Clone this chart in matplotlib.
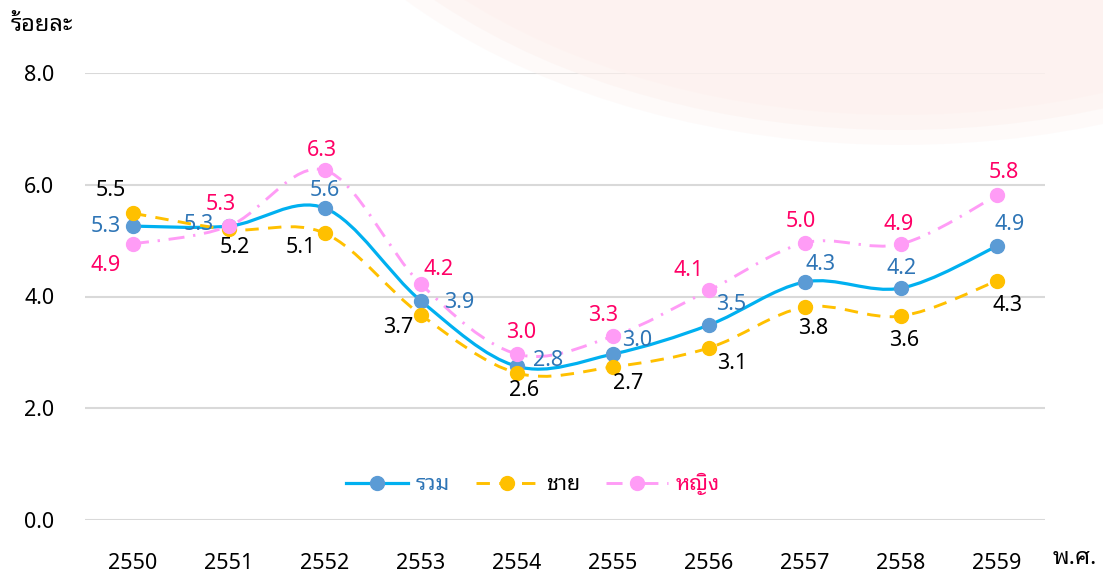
import matplotlib
matplotlib.use("Agg")
import matplotlib.pyplot as plt
import numpy as np
from matplotlib.path import Path
from matplotlib.patches import PathPatch, Ellipse
from matplotlib.lines import Line2D

plt.rcParams['font.family'] = ['Noto Sans', 'Noto Sans Thai Looped', 'DejaVu Sans']

# data (unemployment rate, percent)
years = ["2550", "2551", "2552", "2553", "2554", "2555", "2556", "2557", "2558", "2559"]
total = [5.26, 5.26, 5.58, 3.92, 2.75, 2.97, 3.49, 4.26, 4.15, 4.90]
male = [5.49, 5.20, 5.13, 3.67, 2.63, 2.74, 3.08, 3.81, 3.65, 4.28]
female = [4.94, 5.26, 6.26, 4.22, 2.97, 3.29, 4.11, 4.96, 4.94, 5.81]
labels = ["รวม", "ชาย", "หญิง"]

# label offsets in pixels (dx, dy) per point
off_total = [(-27, 0), (-30, 2), (0, 18), (38, -2), (31, 6), (24, 14), (22, 20), (16, 17), (1, 20), (13, 22)]
off_male = [(-22, 23), (6, -18), (-24, -14), (-23, -13), (7, -17), (15, -17), (23, -16), (8, -21), (3, -24), (11, -25)]
off_female = [(-27, -22), (-8, 22), (-3, 20), (18, 15), (4, 22), (-10, 21), (-20, 20), (-4, 21), (-2, 19), (7, 23)]


def smooth_path(xs, ys):
    # Excel style smoothed line: cubic bezier through every point
    pts = np.column_stack([xs, ys]).astype(float)
    n = len(pts)
    verts = [pts[0]]
    codes = [Path.MOVETO]
    for i in range(n - 1):
        p0 = pts[max(i - 1, 0)]
        p1 = pts[i]
        p2 = pts[i + 1]
        p3 = pts[min(i + 2, n - 1)]
        c1 = p1 + (p2 - p0) / 6.0
        c2 = p2 - (p3 - p1) / 6.0
        verts += [c1, c2, p2]
        codes += [Path.CURVE4] * 3
    return Path(verts, codes)


fig = plt.figure(figsize=(11.03, 5.78), dpi=100)

# faint decorative background at top right
for w, h, a in [(1340, 890, 0.3), (1300, 860, 0.5), (1260, 830, 0.5)]:
    e = Ellipse((900 / 1103, 1 + 300 / 578), width=w / 1103, height=h / 578,
                transform=fig.transFigure, facecolor='#FDF1EE', edgecolor='none', alpha=a, zorder=0)
    fig.patches.append(e)

ax = fig.add_axes([85 / 1103, 1 - 520 / 578, 960 / 1103, 447 / 578])
ax.set_facecolor('none')
x = np.arange(len(years))

series = [
    (total, off_total, '#00B0F0', '#5B9BD5', '#2E75B6', '-'),
    (male, off_male, '#FFC000', '#FFC000', 'black', (0, (4.6, 3.2))),
    (female, off_female, '#FF9CF6', '#FF9CF6', '#FF0066', (0, (5.5, 3, 0.8, 3))),
]

handles = []
for i, (vals, offs, lc, mc, tc, ls) in enumerate(series):
    z = 3 + i
    lw = 2.3 if i == 0 else 2.1
    patch = PathPatch(smooth_path(x, vals), fill=False, edgecolor=lc, lw=lw, linestyle=ls, zorder=z)
    ax.add_patch(patch)
    ax.plot(x, vals, linestyle='none', marker='o', markersize=10, color=mc, zorder=z + 0.5)
    for xi, v, (dx, dy) in zip(x, vals, offs):
        ax.annotate("%.1f" % v, (xi, v), xytext=(dx, dy), textcoords='offset pixels',
                    ha='center', va='center', fontsize=15.5, color=tc, zorder=10)
    handles.append(Line2D([], [], color=lc, lw=lw, linestyle=ls,
                          marker='o', markersize=10, markerfacecolor=mc, markeredgecolor=mc))

ax.set_xlim(-0.5, len(years) - 0.5)
ax.set_ylim(0, 8)
ax.set_yticks([0, 2, 4, 6, 8])
ax.set_yticklabels(["%.1f" % t for t in [0, 2, 4, 6, 8]])
ax.set_xticks(x)
ax.set_xticklabels(years)
ax.tick_params(axis='both', length=0, labelsize=15.5)
ax.tick_params(axis='y', pad=22)
ax.tick_params(axis='x', pad=24)
ax.grid(axis='y', color='#D9D9D9', lw=1.5)
ax.set_axisbelow(True)
for s in ax.spines.values():
    s.set_visible(False)

leg = ax.legend(handles, labels, loc='center', bbox_to_anchor=((533 - 85) / 960, 36 / 447),
                ncol=3, frameon=False, handlelength=2.9, columnspacing=1.2, handletextpad=0.35,
                prop={'size': 15.5, 'weight': 'bold'})
for t, c in zip(leg.get_texts(), ['#2E75B6', 'black', '#FF0066']):
    t.set_color(c)

fig.text(11 / 1103, 1 - 25 / 578, "ร้อยละ", fontsize=17, fontweight='bold', va='center', ha='left')
fig.text(1053 / 1103, 1 - 558 / 578, "พ.ศ.", fontsize=17, fontweight='bold', va='center', ha='left')

fig.savefig("out.png", dpi=100)
